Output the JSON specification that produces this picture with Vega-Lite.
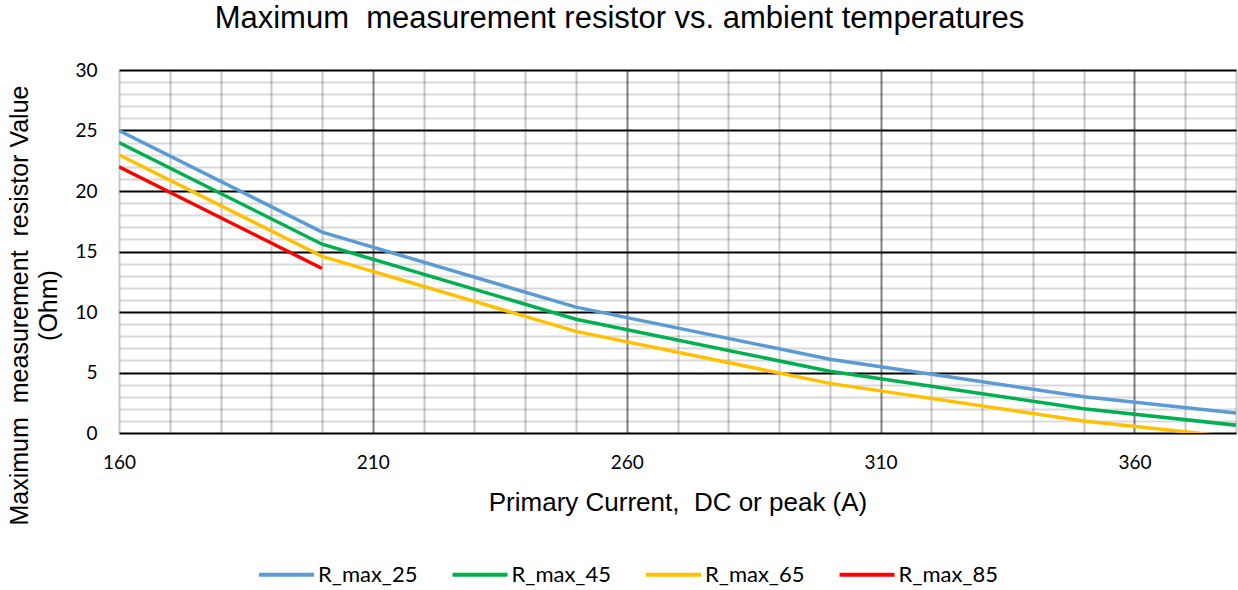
{
  "$schema": "https://vega.github.io/schema/vega-lite/v6.json",
  "width": 1117,
  "height": 363,
  "autosize": {"type": "none"},
  "padding": {"left": 119, "top": 70, "right": 2, "bottom": 157},
  "background": "white",
  "title": {
    "text": "Maximum \u00a0measurement resistor vs. ambient temperatures",
    "font": "Liberation Sans",
    "fontSize": 31,
    "fontWeight": "normal",
    "color": "#000000",
    "anchor": "middle",
    "frame": "group",
    "baseline": "alphabetic",
    "dx": -58,
    "offset": 2
  },
  "config": {
    "view": {"stroke": null},
    "font": "Liberation Sans"
  },
  "data": {
    "values": [
      {"current": 160, "r": 25.0, "series": "R_max_25"},
      {"current": 200, "r": 16.6, "series": "R_max_25"},
      {"current": 250, "r": 10.4, "series": "R_max_25"},
      {"current": 300, "r": 6.1, "series": "R_max_25"},
      {"current": 350, "r": 3.0, "series": "R_max_25"},
      {"current": 380, "r": 1.65, "series": "R_max_25"},
      {"current": 160, "r": 24.0, "series": "R_max_45"},
      {"current": 200, "r": 15.6, "series": "R_max_45"},
      {"current": 250, "r": 9.4, "series": "R_max_45"},
      {"current": 300, "r": 5.1, "series": "R_max_45"},
      {"current": 350, "r": 2.0, "series": "R_max_45"},
      {"current": 380, "r": 0.65, "series": "R_max_45"},
      {"current": 160, "r": 23.0, "series": "R_max_65"},
      {"current": 200, "r": 14.6, "series": "R_max_65"},
      {"current": 250, "r": 8.4, "series": "R_max_65"},
      {"current": 300, "r": 4.1, "series": "R_max_65"},
      {"current": 350, "r": 1.0, "series": "R_max_65"},
      {"current": 380, "r": -0.35, "series": "R_max_65"},
      {"current": 160, "r": 22.0, "series": "R_max_85"},
      {"current": 200, "r": 13.6, "series": "R_max_85"}
    ]
  },
  "mark": {"type": "line", "strokeWidth": 3.5, "clip": true},
  "encoding": {
    "x": {
      "field": "current",
      "type": "quantitative",
      "scale": {"domain": [160, 380], "nice": false, "zero": false},
      "axis": {
        "title": "Primary Current, \u00a0DC or peak (A)",
        "titleFont": "Liberation Sans",
        "titleFontSize": 26,
        "titleFontWeight": "normal",
        "titleColor": "#000000",
        "titlePadding": 17,
        "values": [160, 170, 180, 190, 200, 210, 220, 230, 240, 250, 260, 270, 280, 290, 300, 310, 320, 330, 340, 350, 360, 370, 380],
        "labelExpr": "(datum.value - 160) % 50 === 0 ? datum.label : ''",
        "labelFont": "Lato",
        "labelFontSize": 19,
        "labelColor": "#000000",
        "labelPadding": 20,
        "labelFlush": false,
        "ticks": false,
        "domain": false,
        "grid": true,
        "gridWidth": 2,
        "gridColor": {"condition": {"test": "(datum.value - 160) % 50 === 0 && datum.value > 160", "value": "#808080"}, "value": "#c8c8c8"}
      }
    },
    "y": {
      "field": "r",
      "type": "quantitative",
      "scale": {"domain": [0, 30], "nice": false},
      "axis": {
        "title": ["Maximum \u00a0measurement \u00a0resistor Value", "(Ohm)"],
        "titleFont": "Liberation Sans",
        "titleFontSize": 25,
        "titleFontWeight": "normal",
        "titleColor": "#000000",
        "titleAngle": 270,
        "titleAlign": "center",
        "titleBaseline": "top",
        "titleLineHeight": 29,
        "titleX": -112,
        "titleY": 235,
        "values": [0,1,2,3,4,5,6,7,8,9,10,11,12,13,14,15,16,17,18,19,20,21,22,23,24,25,26,27,28,29,30],
        "labelExpr": "datum.value % 5 === 0 ? datum.label : ''",
        "labelFont": "Lato",
        "labelFontSize": 19,
        "labelColor": "#000000",
        "labelPadding": 22,
        "labelFlush": false,
        "ticks": false,
        "domain": false,
        "grid": true,
        "gridWidth": 2,
        "gridColor": {"condition": {"test": "datum.value % 5 === 0", "value": "#000000"}, "value": "rgba(0,0,0,0.15)"}
      }
    },
    "color": {
      "field": "series",
      "type": "nominal",
      "scale": {
        "domain": ["R_max_25", "R_max_45", "R_max_65", "R_max_85"],
        "range": ["#5B9BD5", "#00B050", "#FFC000", "#FF0000"]
      },
      "legend": {
        "title": null,
        "orient": "none",
        "direction": "horizontal",
        "legendX": 138,
        "legendY": 475,
        "symbolType": "stroke",
        "symbolSize": 3025,
        "symbolStrokeWidth": 4,
        "labelFont": "Lato",
        "labelFontSize": 22,
        "labelColor": "#000000",
        "labelOffset": 2,
        "columnPadding": 26.5
      }
    }
  }
}
